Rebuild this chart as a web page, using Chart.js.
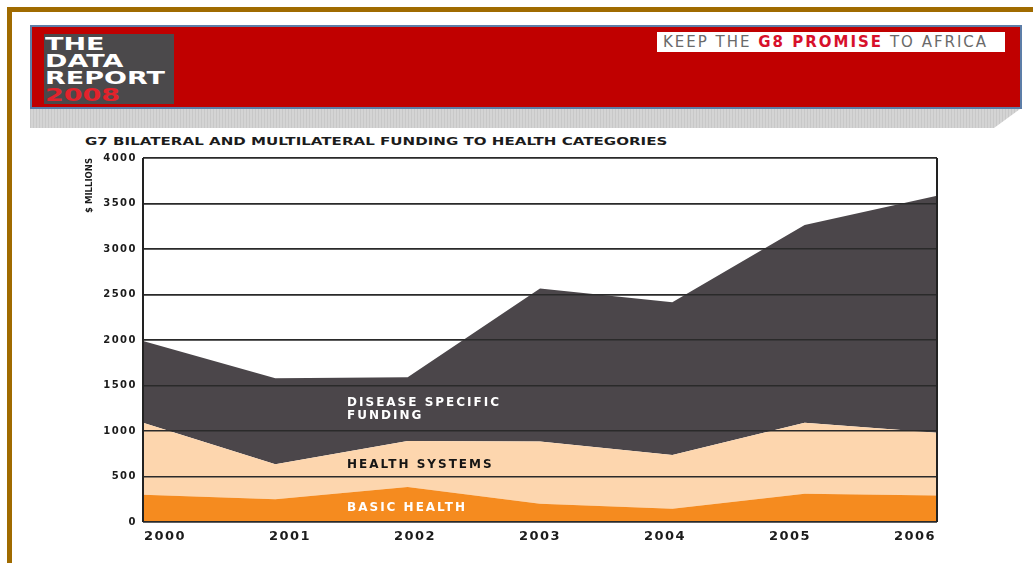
<!DOCTYPE html>
<html lang="en">
<head>
<meta charset="utf-8"/>
<title>G7 funding to health categories</title>
<script src="https://cdn.jsdelivr.net/npm/chart.js"></script>
<style>
  body { margin:0; width:1033px; height:563px; overflow:hidden; background:#fff; position:relative; font-family:"DejaVu Sans", sans-serif; }
  .frame { position:absolute; left:7px; top:7px; right:0; bottom:0; border-top:5px solid #a06b00; border-left:5px solid #a06b00; }
  .banner { position:absolute; left:30px; top:25px; width:992px; height:84px; box-sizing:border-box; background:#c00000; border:2px solid #5d7ea8; }
  .logo { position:absolute; left:44px; top:34px; width:130px; height:70px; background:#4b494b; overflow:hidden; padding-top:1px; box-sizing:border-box; }
  .logo div { font:bold 18px/17px "DejaVu Sans"; color:#fff; transform:scaleX(1.5); transform-origin:left; margin-left:1px; white-space:nowrap; }
  .logo .yr { color:#e3232c; }
  .promise { position:absolute; left:657px; top:32px; width:348px; height:20px; background:#fff; font:15px/20px "DejaVu Sans"; color:#6a6a6a; letter-spacing:2px; padding-left:6px; box-sizing:border-box; white-space:nowrap; }
  .promise b { color:#d7102b; }
  .strip { position:absolute; left:30px; top:109px; width:990px; height:19px;
    background:repeating-linear-gradient(90deg, #c8c8c8 0 1px, #d4d4d4 1px 3px);
    clip-path:polygon(0 0, 100% 0, 964px 100%, 0 100%); }
  .title { position:absolute; left:85px; top:135px; font:bold 11px/13px "DejaVu Sans"; color:#1b1b1b; transform:scaleX(1.37); transform-origin:left; white-space:nowrap; }
  .plot { position:absolute; left:0; top:146px; width:1033px; height:417px; }
</style>
</head>
<body>
  <div class="frame"></div>
  <div class="banner"></div>
  <div class="logo">
    <div>THE</div>
    <div>DATA</div>
    <div>REPORT</div>
    <div class="yr">2008</div>
  </div>
  <div class="promise">KEEP THE <b>G8 PROMISE</b> TO AFRICA</div>
  <div class="strip"></div>
  <div class="title">G7 BILATERAL AND MULTILATERAL FUNDING TO HEALTH CATEGORIES</div>
  <div class="plot"><canvas id="fundingChart"></canvas></div>
<script>
  // $ millions per year, stacked bottom to top
  const years = ['2000', '2001', '2002', '2003', '2004', '2005', '2006'];
  const basicHealth = [300, 250, 385, 200, 145, 310, 290];
  const healthSystems = [790, 385, 505, 685, 590, 780, 690];
  const diseaseSpecific = [900, 945, 700, 1680, 1680, 2175, 2605];
  const yMax = 4000;
  const yStep = 500;

  Chart.defaults.font.family = '"DejaVu Sans", sans-serif';

  function area(label, data, color, fill) {
    return { label, data, fill, backgroundColor: color, borderColor: color, borderWidth: 0, pointRadius: 0, tension: 0 };
  }

  // grid over the filled areas, band names, and wide tick lettering
  const overlay = {
    id: 'overlay',
    beforeDraw(chart) { chart.ctx.letterSpacing = '0px'; },
    afterDatasetsDraw(chart) {
      const { ctx, chartArea, scales: { x, y } } = chart;
      y.drawGrid(chartArea);
      x.drawGrid(chartArea);
      const names = [
        { text: 'DISEASE SPECIFIC', at: 1.542, value: 1310, color: '#ffffff' },
        { text: 'FUNDING', at: 1.542, value: 1165, color: '#ffffff' },
        { text: 'HEALTH SYSTEMS', at: 1.542, value: 625, color: '#151515' },
        { text: 'BASIC HEALTH', at: 1.542, value: 150, color: '#ffffff' }
      ];
      ctx.save();
      ctx.letterSpacing = '2px';
      ctx.font = 'bold 12px "DejaVu Sans"';
      ctx.textBaseline = 'middle';
      names.forEach(n => {
        ctx.fillStyle = n.color;
        ctx.fillText(n.text, x.getPixelForValue(n.at), y.getPixelForValue(n.value));
      });
      ctx.restore();
      // tick labels are drawn after this hook (ticks.z = 1)
      ctx.letterSpacing = '1.5px';
    },
    afterDraw(chart) { chart.ctx.letterSpacing = '0px'; }
  };

  new Chart(document.getElementById('fundingChart'), {
    type: 'line',
    data: {
      labels: years,
      datasets: [
        area('Basic health', basicHealth, '#f58b1f', 'origin'),
        area('Health systems', healthSystems, '#fdd6ae', '-1'),
        area('Disease specific funding', diseaseSpecific, '#4b464a', '-1')
      ]
    },
    options: {
      responsive: true,
      maintainAspectRatio: false,
      animation: false,
      layout: { padding: { left: 85, right: 96, top: 10, bottom: 11 } },
      plugins: { legend: { display: false }, tooltip: { enabled: false } },
      scales: {
        x: {
          type: 'category',
          offset: false,
          border: { display: false },
          grid: {
            color: c => (c.index === 0 || c.index === years.length - 1) ? '#222' : 'rgba(0,0,0,0)',
            lineWidth: 2,
            drawTicks: false
          },
          ticks: { display: false },
          afterFit: s => { s.height = 0; }
        },
        xl: {
          type: 'linear',
          position: 'bottom',
          min: -0.176,
          max: 6.176,
          border: { display: false },
          grid: { display: false, drawTicks: false },
          afterBuildTicks: s => { s.ticks = years.map((_, i) => ({ value: i })); },
          ticks: {
            callback: v => years[v],
            font: { size: 13, weight: 'bold' },
            color: '#1b1b1b',
            padding: 7,
            maxRotation: 0,
            autoSkip: false,
            z: 1
          },
          afterFit: s => { s.height = 30; }
        },
        y: {
          stacked: true,
          min: 0,
          max: yMax,
          border: { display: false },
          grid: { color: '#2a2a2a', lineWidth: 1.5, drawTicks: false },
          ticks: { stepSize: yStep, callback: v => String(v), font: { size: 10, weight: 'bold' }, color: '#1b1b1b', padding: 6, z: 1 },
          title: { display: true, text: '$ MILLIONS', align: 'end', font: { size: 8.5, weight: 'bold' }, color: '#1b1b1b', padding: 0 },
          afterFit: s => { s.width = 58; }
        }
      }
    },
    plugins: [overlay]
  });
</script>
</body>
</html>
